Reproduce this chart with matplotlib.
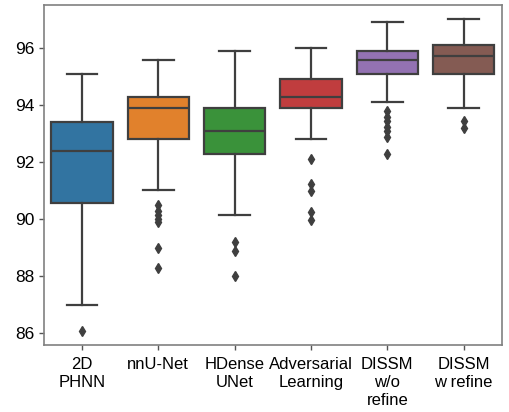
import matplotlib
matplotlib.use("Agg")
from matplotlib import pyplot as plt

plt.rcParams['font.family'] = ['Liberation Sans', 'DejaVu Sans']

# methods on the x axis
labels = ["2D\nPHNN", "nnU-Net", "HDense\nUNet", "Adversarial\nLearning",
          "DISSM\nw/o\nrefine", "DISSM\nw refine"]

# box statistics
whislo = [87.0, 91.02, 90.13, 92.81, 94.11, 93.92]
q1 = [90.58, 92.81, 92.3, 93.9, 95.1, 95.1]
med = [92.41, 93.91, 93.1, 94.28, 95.59, 95.73]
q3 = [93.41, 94.28, 93.9, 94.92, 95.92, 96.12]
whishi = [95.1, 95.58, 95.9, 96.01, 96.92, 97.02]
fliers = [
    [86.09],
    [90.5, 90.3, 90.15, 90.0, 89.9, 89.0, 88.28],
    [89.19, 88.9, 87.99],
    [92.1, 91.25, 91.0, 90.27, 89.98],
    [93.8, 93.6, 93.45, 93.25, 93.1, 92.9, 92.3],
    [93.45, 93.2],
]
colors = ["#3274A1", "#E1812C", "#3A923A", "#C03D3E", "#9372B2", "#845B53"]

stats = []
for i in range(len(labels)):
    stats.append(dict(whislo=whislo[i], q1=q1[i], med=med[i], q3=q3[i],
                      whishi=whishi[i], fliers=fliers[i]))

fig = plt.figure(figsize=(5.1, 4.12), dpi=100)
ax = fig.add_axes([0.086, 0.163, 0.898, 0.825])

lc = "#3f3f3f"
bp = ax.bxp(stats, positions=range(len(labels)), widths=0.8, patch_artist=True,
            boxprops=dict(edgecolor=lc, linewidth=1.6),
            medianprops=dict(color=lc, linewidth=1.6),
            whiskerprops=dict(color=lc, linewidth=1.6),
            capprops=dict(color=lc, linewidth=1.6),
            flierprops=dict(marker="d", markerfacecolor=lc, markeredgecolor=lc,
                            markersize=5.5, linestyle="none"))
for patch, c in zip(bp["boxes"], colors):
    patch.set_facecolor(c)
for cap in bp["caps"]:
    x = cap.get_xdata()
    m = (x[0] + x[1]) / 2
    cap.set_xdata([m - 0.2, m + 0.2])

ax.set_xlim(-0.5, 5.5)
ax.set_ylim(85.59, 97.52)
ax.set_yticks([86, 88, 90, 92, 94, 96])
ax.set_xticks(range(len(labels)))
ax.set_xticklabels(labels, fontsize=12, linespacing=1.25)
ax.tick_params(axis="y", labelsize=12.5)
ax.tick_params(axis="x", pad=5)
ax.tick_params(direction="out", length=3.5, width=1, color="#555555")
for s in ax.spines.values():
    s.set_color("#808080")
    s.set_linewidth(1.2)

fig.savefig("out.png", dpi=100)
